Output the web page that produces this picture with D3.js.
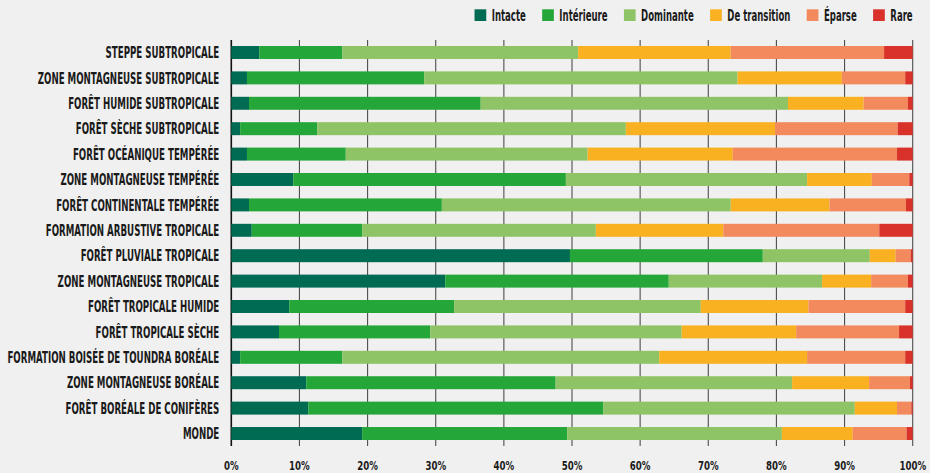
<!DOCTYPE html>
<html>
<head>
<meta charset="utf-8">
<script src="https://cdn.jsdelivr.net/npm/d3@7"></script>
<style>
html,body{margin:0;padding:0;background:#f0f0f0;}
svg{display:block;}
text{font-family:"Liberation Sans Narrow","DejaVu Sans Condensed",sans-serif;font-weight:bold;fill:#1a1a1a;}
</style>
</head>
<body>
<svg id="chart" width="930" height="473"></svg>
<script>
const categories = [
  "STEPPE SUBTROPICALE",
  "ZONE MONTAGNEUSE SUBTROPICALE",
  "FORÊT HUMIDE SUBTROPICALE",
  "FORÊT SÈCHE SUBTROPICALE",
  "FORÊT OCÉANIQUE TEMPÉRÉE",
  "ZONE MONTAGNEUSE TEMPÉRÉE",
  "FORÊT CONTINENTALE TEMPÉRÉE",
  "FORMATION ARBUSTIVE TROPICALE",
  "FORÊT PLUVIALE TROPICALE",
  "ZONE MONTAGNEUSE TROPICALE",
  "FORÊT TROPICALE HUMIDE",
  "FORÊT TROPICALE SÈCHE",
  "FORMATION BOISÉE DE TOUNDRA BORÉALE",
  "ZONE MONTAGNEUSE BORÉALE",
  "FORÊT BORÉALE DE CONIFÈRES",
  "MONDE"
];
const seriesNames = ["Intacte", "Intérieure", "Dominante", "De transition", "Éparse", "Rare"];
const seriesColors = ["#006b53", "#24a738", "#8ec465", "#f9b122", "#f28a5d", "#d8322a"];

const intacte     = [4.1, 2.3, 2.6, 1.3, 2.3, 9.1, 2.6, 3.0, 49.7, 31.4, 8.5, 7.0, 1.3, 11.0, 11.3, 19.2];
const interieure  = [12.2, 26.0, 34.0, 11.3, 14.5, 40.0, 28.3, 16.2, 28.3, 32.8, 24.2, 22.2, 15.0, 36.6, 43.3, 30.1];
const dominante   = [34.6, 46.0, 45.1, 45.3, 35.5, 35.4, 42.4, 34.3, 15.7, 22.5, 36.2, 36.9, 46.5, 34.7, 36.9, 31.5];
const transition  = [22.4, 15.3, 11.1, 21.9, 21.3, 9.5, 14.5, 18.7, 3.8, 7.2, 15.8, 16.8, 21.7, 11.3, 6.2, 10.4];
const eparse      = [22.5, 9.3, 6.5, 18.0, 24.1, 5.5, 11.2, 22.9, 2.2, 5.4, 14.2, 15.1, 14.4, 6.0, 2.1, 7.9];
const rare        = [4.2, 1.1, 0.7, 2.2, 2.3, 0.5, 1.0, 4.9, 0.3, 0.7, 1.1, 2.0, 1.1, 0.4, 0.2, 0.9];

const tickValues = [0, 10, 20, 30, 40, 50, 60, 70, 80, 90, 100];
const tickLabels = ["0%", "10%", "20%", "30%", "40%", "50%", "60%", "70%", "80%", "90%", "100%"];

const seriesArrays = [intacte, interieure, dominante, transition, eparse, rare];
const table = categories.map((c, i) => {
  const row = {category: c};
  seriesNames.forEach((s, j) => row[s] = seriesArrays[j][i]);
  return row;
});

const svg = d3.select("#chart");
const margin = {left: 231.3, right: 17.3, top: 40, bottom: 27};
const W = 930, H = 473;

const x = d3.scaleLinear().domain([0, 100]).range([margin.left, W - margin.right]);
const y = d3.scaleBand().domain(categories).range([margin.top, H - margin.bottom])
  .paddingInner(0.489).paddingOuter(0.236);
const color = d3.scaleOrdinal().domain(seriesNames).range(seriesColors);

// gridlines
const grid = svg.append("g");
grid.selectAll("line").data(tickValues).join("line")
  .attr("x1", d => x(d)).attr("x2", d => x(d))
  .attr("y1", margin.top).attr("y2", H - margin.bottom)
  .attr("stroke", d => d === 0 ? "#111" : "#333")
  .attr("stroke-width", d => d === 0 ? 1.6 : 1.1)
  .attr("opacity", d => d === 0 ? 1 : 0.85);

// bars
const stack = d3.stack().keys(seriesNames);
const stacked = stack(table);
svg.append("g").selectAll("g").data(stacked).join("g")
  .attr("fill", d => color(d.key))
  .selectAll("rect").data(d => d).join("rect")
  .attr("x", d => x(d[0]))
  .attr("width", d => Math.max(0, x(Math.min(100, d[1])) - x(d[0])))
  .attr("y", d => y(d.data.category))
  .attr("height", y.bandwidth());

// helper for condensed text
function squashGroup(parent, str, size, anchor) {
  const g = parent.append("g");
  const t = g.append("text").text(str).attr("font-size", size).attr("text-anchor", anchor);
  return {g, t, w: t.node().getComputedTextLength()};
}

// category labels
const labG = svg.append("g");
const labs = categories.map(c => squashGroup(labG, c, 16, "end"));
const maxW = d3.max(labs, d => d.w);
const sxLab = 212 / maxW;
labs.forEach((l, i) => {
  l.g.attr("transform", `translate(219.3,${y(categories[i]) + y.bandwidth() / 2 + 5.7}) scale(${sxLab},1)`);
});

// x axis tick labels
const tkG = svg.append("g");
const tks = tickLabels.map(t => squashGroup(tkG, t, 13, "middle"));
const sxTk = 26.7 / tks[tks.length - 1].w;
tks.forEach((t, i) => {
  t.g.attr("transform", `translate(${x(tickValues[i])},469.5) scale(${sxTk},1)`);
});

// legend
const legG = svg.append("g");
const legItems = seriesNames.map(s => squashGroup(legG, s, 16.5, "start"));
const sxLeg = 52.7 / legItems[2].w;
const sq = 11.7, gap1 = 5.5, gap2 = 16.3;
let total = 0;
legItems.forEach((it, i) => {
  total += sq + gap1 + it.w * sxLeg + (i < legItems.length - 1 ? gap2 : 0);
});
let cx = 912.7 - total;
legItems.forEach((it, i) => {
  legG.append("rect").attr("x", cx).attr("y", 9.3).attr("width", sq).attr("height", sq)
    .attr("fill", seriesColors[i]);
  it.g.attr("transform", `translate(${cx + sq + gap1},21) scale(${sxLeg},1)`);
  cx += sq + gap1 + it.w * sxLeg + gap2;
});
</script>
</body>
</html>
